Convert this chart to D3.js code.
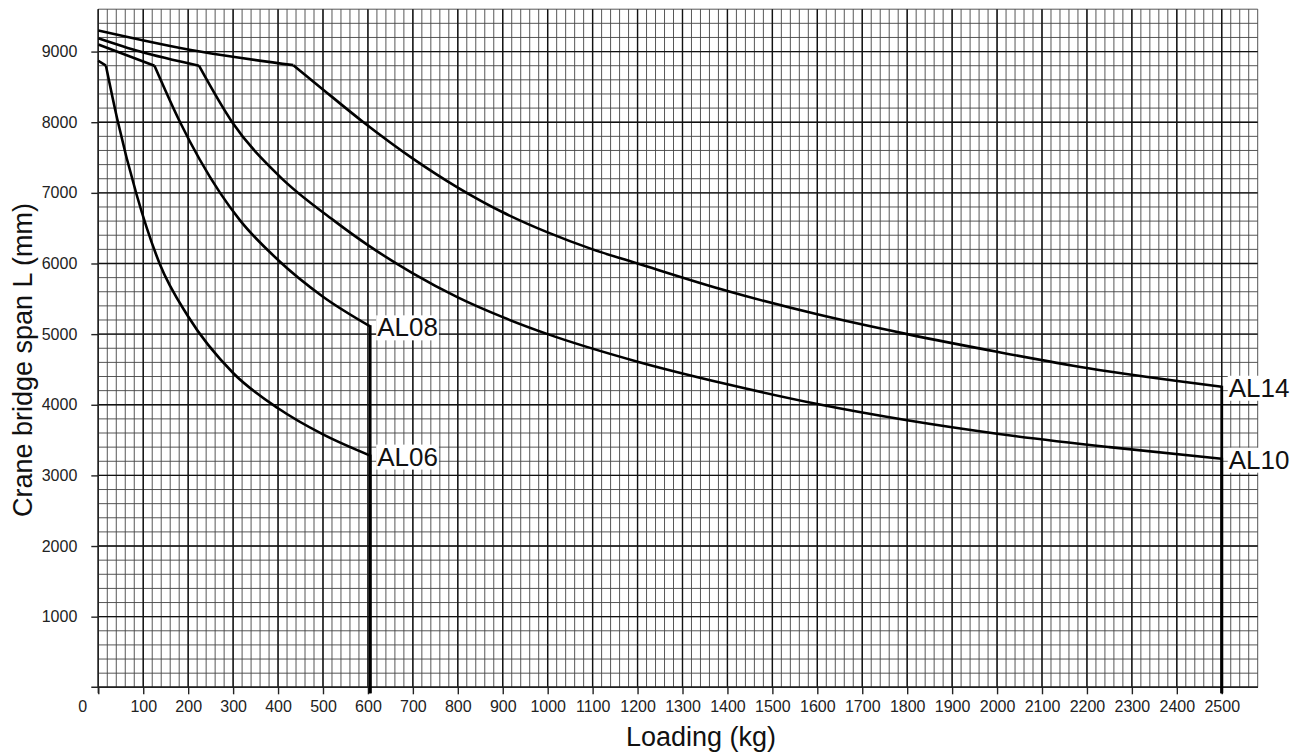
<!DOCTYPE html>
<html>
<head>
<meta charset="utf-8">
<script src="https://cdn.jsdelivr.net/npm/d3@7"></script>
<style>
  html, body { margin: 0; padding: 0; background: #fff; }
  svg { display: block; font-family: "Liberation Sans", Arial, sans-serif; }
</style>
</head>
<body>
<svg id="chart" width="1304" height="756"></svg>
<script>
// Axis ticks
const loadTicks = d3.range(0, 2501, 100);
const spanTicks = d3.range(1000, 9001, 1000);

// Load-span limit curves per crane model: [load kg], [span mm].
// Points up to the kink form the gentle top segment, the rest the falling curve.
const al06Load = [0, 17, 42, 85, 137, 200, 300, 400, 500, 605];
const al06Span = [8870, 8800, 8050, 6980, 5990, 5250, 4450, 3950, 3580, 3280];

const al08Load = [0, 125, 182, 271, 315, 400, 500, 605];
const al08Span = [9100, 8800, 8000, 7000, 6614, 6050, 5530, 5110];

const al10Load = [0, 93, 224, 298, 404, 523, 600, 700, 800, 900, 1000, 1200, 1400, 1600, 1800, 2000, 2250, 2500];
const al10Span = [9190, 9000, 8800, 8000, 7230, 6614, 6260, 5860, 5520, 5240, 5000, 4610, 4290, 4010, 3780, 3590, 3400, 3236];

const al14Load = [0, 226, 434, 493, 590, 700, 800, 900, 1000, 1100, 1200, 1400, 1600, 1800, 2000, 2200, 2500];
const al14Span = [9300, 9000, 8808, 8500, 8000, 7485, 7075, 6725, 6440, 6200, 6000, 5610, 5280, 5000, 4750, 4520, 4255];

// index of the kink where the flat top meets the falling curve
const kinkIndex = { AL06: 1, AL08: 1, AL10: 2, AL14: 2 };

const series = [
  { name: "AL06", load: al06Load, span: al06Span },
  { name: "AL08", load: al08Load, span: al08Span },
  { name: "AL10", load: al10Load, span: al10Span },
  { name: "AL14", load: al14Load, span: al14Span }
];

const svg = d3.select("#chart");
const W = 1304, H = 756;
const margin = { left: 98.3, right: W - 1257.7, top: 9.2, bottom: H - 687.3 };

const x = d3.scaleLinear().domain([0, 2580]).range([margin.left, W - margin.right]);
const y = d3.scaleLinear().domain([0, 9600]).range([H - margin.bottom, margin.top]);

const grid = svg.append("g");

// minor grid: 20 kg / 200 mm
grid.selectAll("line.vminor").data(d3.range(0, 2581, 20)).join("line")
  .attr("x1", d => x(d)).attr("x2", d => x(d))
  .attr("y1", y(0)).attr("y2", y(9600))
  .attr("stroke", "#444").attr("stroke-width", 0.9);
grid.selectAll("line.hminor").data(d3.range(0, 9601, 200)).join("line")
  .attr("y1", d => y(d)).attr("y2", d => y(d))
  .attr("x1", x(0)).attr("x2", x(2580))
  .attr("stroke", "#444").attr("stroke-width", 0.9);

// major grid: 100 kg / 1000 mm
grid.selectAll("line.vmajor").data(loadTicks).join("line")
  .attr("x1", d => x(d)).attr("x2", d => x(d))
  .attr("y1", y(0)).attr("y2", y(9600))
  .attr("stroke", "#111").attr("stroke-width", 1.4);
grid.selectAll("line.hmajor").data(d3.range(0, 9001, 1000)).join("line")
  .attr("y1", d => y(d)).attr("y2", d => y(d))
  .attr("x1", x(0)).attr("x2", x(2580))
  .attr("stroke", "#111").attr("stroke-width", 1.4);

// axes
const xAxis = d3.axisBottom(x).tickValues(loadTicks).tickFormat(d3.format("d")).tickSize(7).tickPadding(6);
const gx = svg.append("g").attr("transform", `translate(0,${y(0)})`).call(xAxis);
gx.select(".domain").remove();
gx.append("line").attr("x1", x(0) - 7).attr("x2", x(2580)).attr("stroke", "#222").attr("stroke-width", 1.4);
gx.selectAll(".tick line").attr("stroke", "#222").attr("stroke-width", 1.4);
gx.selectAll(".tick text").attr("font-size", 16).attr("fill", "#222")
  .attr("font-family", "Liberation Sans, Arial, sans-serif")
  .attr("dx", d => d === 0 ? -16 : 0);

const yAxis = d3.axisLeft(y).tickValues(spanTicks).tickFormat(d3.format("d")).tickSize(7).tickPadding(14);
const gy = svg.append("g").attr("transform", `translate(${x(0)},0)`).call(yAxis);
gy.select(".domain").remove();
gy.append("line").attr("y1", y(0) + 6).attr("y2", y(9600)).attr("stroke", "#222").attr("stroke-width", 1.4);
gy.selectAll(".tick line").attr("stroke", "#222").attr("stroke-width", 1.4);
gy.selectAll(".tick text").attr("font-size", 16).attr("fill", "#222")
  .attr("font-family", "Liberation Sans, Arial, sans-serif");

// curves
const pts = s => s.load.map((l, i) => [l, s.span[i]]);
const line = d3.line().x(d => x(d[0])).y(d => y(d[1])).curve(d3.curveMonotoneX);

const curves = svg.append("g").attr("fill", "none").attr("stroke", "#000")
  .attr("stroke-width", 2.6).attr("stroke-linejoin", "round");

series.forEach(s => {
  const p = pts(s);
  const k = kinkIndex[s.name];
  curves.append("path").attr("d", line(p.slice(0, k + 1)));
  curves.append("path").attr("d", line(p.slice(k)));
  const last = p[p.length - 1];
  curves.append("line")
    .attr("x1", x(last[0])).attr("x2", x(last[0]))
    .attr("y1", y(last[1]) - 1).attr("y2", y(0) + 6)
    .attr("stroke-width", 2.8);
});

// model labels at curve ends, on a white backing
const labels = svg.append("g");
series.forEach(s => {
  const lx = x(s.load[s.load.length - 1]) + 7;
  const ly = y(s.span[s.span.length - 1]);
  const t = labels.append("text")
    .attr("x", lx).attr("y", ly + 10)
    .attr("font-size", 26).attr("fill", "#111")
    .text(s.name);
  const bb = t.node().getBBox();
  labels.insert("rect", () => t.node())
    .attr("x", bb.x - 1).attr("y", bb.y + 3).attr("width", bb.width + 2).attr("height", bb.height - 5)
    .attr("fill", "#fff");
});

// axis titles
svg.append("text")
  .attr("x", 701).attr("y", 746)
  .attr("text-anchor", "middle").attr("font-size", 27).attr("fill", "#111")
  .text("Loading (kg)");
svg.append("text")
  .attr("transform", `translate(32,360) rotate(-90)`)
  .attr("text-anchor", "middle").attr("font-size", 27).attr("fill", "#111")
  .text("Crane bridge span L (mm)");
</script>
</body>
</html>
